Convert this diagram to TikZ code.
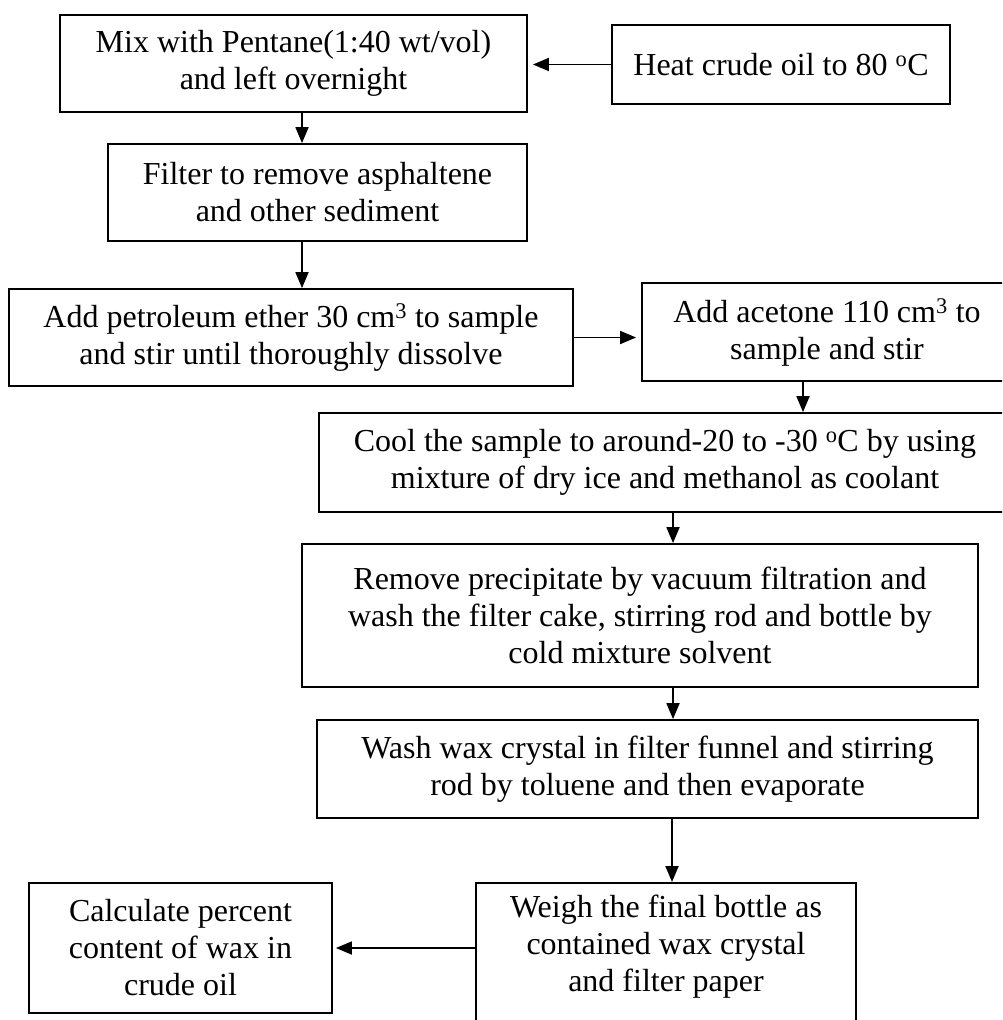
\documentclass[tikz,border=0pt]{standalone}
\usepackage{fontspec}
\setmainfont{Liberation Serif}
\usetikzlibrary{arrows.meta}

\begin{document}
\begin{tikzpicture}[x=1pt,y=-1pt,->,>={Triangle[length=16pt,width=13pt]},line width=1.8pt,
				process node/.style={draw,rectangle,inner sep=0pt,align=center,font=\fontsize{32}{37}\selectfont}]
				
				\clip (0,0) rectangle (1002,1020);
				
				\node[process node,minimum width=467pt,minimum height=97pt] (mix) at (293.5,63.5) {Mix with Pentane(1:40 wt/vol)\\and left overnight};
				\node[process node,minimum width=338pt,minimum height=79pt] (heat) at (781,64.5) {Heat crude oil to 80 \textsuperscript{o}C};
				\node[process node,minimum width=419pt,minimum height=97pt] (filter) at (317.5,192.5) {Filter to remove asphaltene\\and other sediment};
				\node[process node,minimum width=564pt,minimum height=97pt] (petrol) at (291,337.5) {Add petroleum ether 30 cm\textsuperscript{3} to sample\\and stir until thoroughly dissolve};
				\node[process node,minimum width=370pt,minimum height=98pt] (acetone) at (827,332) {Add acetone 110 cm\textsuperscript{3} to\\sample and stir};
				\node[process node,minimum width=692pt,minimum height=99pt] (cool) at (665,462.5) {Cool the sample to around-20 to -30 \textsuperscript{o}C by using\\mixture of dry ice and methanol as coolant};
				\node[process node,minimum width=676pt,minimum height=143pt] (remove) at (640,615.5) {Remove precipitate by vacuum filtration and\\wash the filter cake, stirring rod and bottle by\\cold mixture solvent};
				\node[process node,minimum width=661pt,minimum height=98pt] (wash) at (647.5,769) {Wash wax crystal in filter funnel and stirring\\rod by toluene and then evaporate};
				\node[process node,minimum width=380pt,inner ysep=12pt,text depth=50pt,anchor=north] (weigh) at (666,882) {Weigh the final bottle as\\contained wax crystal\\and filter paper};
				\node[process node,minimum width=303pt,minimum height=130pt] (calc) at (180.5,948) {Calculate percent\\content of wax in\\crude oil};
				
				\draw[shorten >=5pt] (heat.west) -- (heat.west -| mix.east);
				\draw ([xshift=8.5pt]mix.south) -- ([xshift=8.5pt]mix.south |- filter.north);
				\draw ([xshift=-15.5pt]filter.south) -- ([xshift=-15.5pt]filter.south |- petrol.north);
				\draw[shorten >=5pt] (petrol.east) -- (petrol.east -| acetone.west);
				\draw ([xshift=-24pt]acetone.south) -- ([xshift=-24pt]acetone.south |- cool.north);
				\draw ([xshift=8pt]cool.south) -- ([xshift=8pt]cool.south |- remove.north);
				\draw ([xshift=33pt]remove.south) -- ([xshift=33pt]remove.south |- wash.north);
				\draw ([xshift=24.5pt]wash.south) -- ([xshift=24.5pt]wash.south |- weigh.north);
				\draw[shorten >=3pt] (calc.east -| weigh.west) -- (calc.east);
				
				\end{tikzpicture}
\end{document}
